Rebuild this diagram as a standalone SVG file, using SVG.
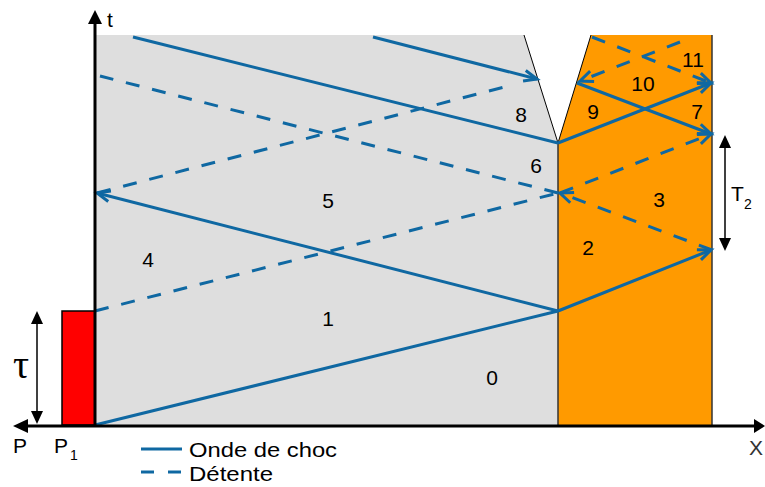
<svg xmlns="http://www.w3.org/2000/svg" width="765" height="487" viewBox="0 0 765 487">
<style>
.w{fill:none;stroke:#0f68a2;stroke-width:3}
.d{stroke-dasharray:14 13}
.lbl{font-family:"Liberation Sans",Arial,sans-serif;font-size:21px;fill:#000;text-anchor:middle}
.txt{font-family:"Liberation Sans",Arial,sans-serif;font-size:21px;fill:#000}
.sub{font-family:"Liberation Sans",Arial,sans-serif;font-size:14px;fill:#000}
.ax{stroke:#000;stroke-width:3;fill:none}
</style>
<defs>
<marker id="ch" markerUnits="userSpaceOnUse" markerWidth="20" markerHeight="20" refX="0" refY="0" viewBox="-14 -10 16 20" orient="auto" overflow="visible">
<path d="M-13,-5.5 L0,0 L-13,5.5" fill="none" stroke="#0f68a2" stroke-width="3" stroke-dasharray="none"/>
</marker>
</defs>
<g id="regions">
<polygon id="gray" points="95,35 524,35 558,143 558,425 95,425" fill="#dedede"/>
<polygon id="orange" points="591,35 712,35 712,425 558,425 558,143" fill="#ff9a00"/>
<line x1="524" y1="35" x2="558" y2="143" stroke="#000" stroke-width="1"/>
<line x1="591" y1="35" x2="558" y2="143" stroke="#000" stroke-width="1"/>
<line x1="558" y1="143" x2="558" y2="425" stroke="#333" stroke-width="1.5"/>
<line x1="712" y1="35" x2="712" y2="425" stroke="#333" stroke-width="1.5"/>
</g>
<g id="flyer">
<rect x="62" y="311" width="33" height="114" fill="#ff0000" stroke="#000" stroke-width="1.5"/>
</g>
<g id="connectors">
<line class="w" x1="95" y1="425" x2="558" y2="311"/>
<line class="w" x1="558" y1="311" x2="711" y2="250" marker-end="url(#ch)"/>
<line class="w" x1="558" y1="311" x2="97" y2="193" marker-end="url(#ch)"/>
<line class="w" x1="133" y1="37" x2="558" y2="143"/>
<line class="w" x1="373" y1="37" x2="537" y2="79" marker-end="url(#ch)"/>
<line class="w" x1="558" y1="143" x2="711" y2="83" marker-end="url(#ch)"/>
<line class="w" x1="577" y1="83" x2="711" y2="134" marker-end="url(#ch)"/>
<line class="w d" x1="95" y1="311" x2="558" y2="193"/>
<line class="w d" x1="712" y1="250" x2="560" y2="193" marker-end="url(#ch)"/>
<line class="w d" x1="560" y1="193" x2="711" y2="134" marker-end="url(#ch)"/>
<line class="w d" x1="558" y1="193" x2="100" y2="76"/>
<line class="w d" x1="97" y1="193" x2="512" y2="85"/>
<line class="w d" x1="592" y1="37" x2="711" y2="83" marker-end="url(#ch)"/>
<line class="w d" x1="680" y1="42" x2="580" y2="81" marker-end="url(#ch)"/>
</g>
<g id="axes">
<line class="ax" x1="95" y1="22" x2="95" y2="426"/>
<polygon points="95,10 88,24 102,24" fill="#000"/>
<line class="ax" x1="26" y1="426" x2="756" y2="426"/>
<polygon points="13,426 28,419 28,433" fill="#000"/>
<polygon points="765,426 754,419 754,433" fill="#000"/>
<text class="txt" x="107" y="27" font-size="22">t</text>
<text class="txt" x="749" y="455" style="fill:#333">X</text>
<text class="lbl" x="20" y="453">P</text>
<text class="lbl" x="61" y="453">P</text>
<text class="sub" x="70" y="460">1</text>
</g>
<g id="tau">
<line x1="37" y1="322" x2="37" y2="413" stroke="#000" stroke-width="1.5"/>
<polygon points="37,311 31,324 43,324" fill="#000"/>
<polygon points="37,424 31,411 43,411" fill="#000"/>
<text x="21" y="378" font-family="Liberation Serif, Times New Roman, serif" font-size="40" text-anchor="middle">τ</text>
</g>
<g id="T2">
<line x1="725" y1="146" x2="725" y2="240" stroke="#000" stroke-width="1.5"/>
<polygon points="725,135 719,148 731,148" fill="#000"/>
<polygon points="725,251 719,238 731,238" fill="#000"/>
<text class="txt" x="731" y="201">T</text>
<text class="sub" x="744" y="209">2</text>
</g>
<g id="labels">
<text id="z0" class="lbl" x="492" y="385">0</text>
<text id="z1" class="lbl" x="328" y="326">1</text>
<text id="z2" class="lbl" x="588" y="255">2</text>
<text id="z3" class="lbl" x="659" y="207">3</text>
<text id="z4" class="lbl" x="148" y="267">4</text>
<text id="z5" class="lbl" x="328" y="208">5</text>
<text id="z6" class="lbl" x="536" y="173">6</text>
<text id="z7" class="lbl" x="697" y="119">7</text>
<text id="z8" class="lbl" x="521" y="122">8</text>
<text id="z9" class="lbl" x="593" y="119">9</text>
<text id="z10" class="lbl" x="643" y="91">10</text>
<text id="z11" class="lbl" x="693" y="67">11</text>
</g>
<g id="legend">
<line class="w" x1="141" y1="449" x2="182" y2="449"/>
<line class="w" x1="141" y1="472" x2="154" y2="472"/>
<line class="w" x1="168" y1="472" x2="181" y2="472"/>
<text class="txt" x="189" y="457" textLength="148" lengthAdjust="spacingAndGlyphs">Onde de choc</text>
<text class="txt" x="189" y="481" textLength="84" lengthAdjust="spacingAndGlyphs">Détente</text>
</g>
</svg>
